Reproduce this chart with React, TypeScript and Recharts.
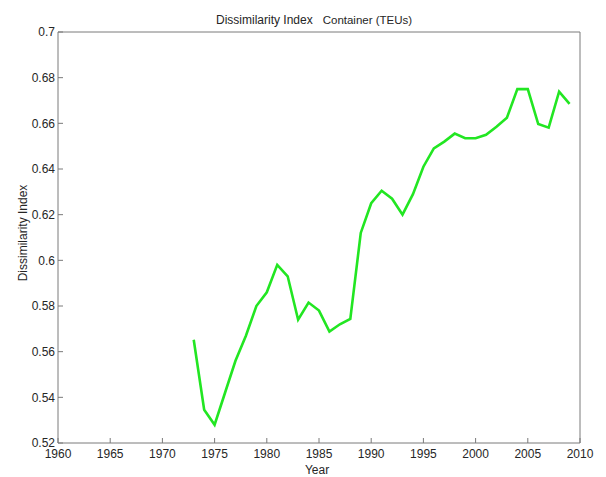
import React from 'react';
import { LineChart, Line, XAxis, YAxis } from 'recharts';

const years = [1973, 1974, 1975, 1976, 1977, 1978, 1979, 1980, 1981, 1982, 1983, 1984, 1985, 1986, 1987, 1988, 1989, 1990, 1991, 1992, 1993, 1994, 1995, 1996, 1997, 1998, 1999, 2000, 2001, 2002, 2003, 2004, 2005, 2006, 2007, 2008, 2009];
const dissimilarity = [0.5652, 0.5346, 0.528, 0.542, 0.556, 0.567, 0.580, 0.586, 0.598, 0.593, 0.574, 0.5815, 0.578, 0.5688, 0.572, 0.5743, 0.612, 0.625, 0.6305, 0.627, 0.620, 0.629, 0.641, 0.649, 0.652, 0.6555, 0.6535, 0.6535, 0.655, 0.6585, 0.6625, 0.675, 0.675, 0.6597, 0.6581, 0.6739, 0.6685];
const xTicks = [1960, 1965, 1970, 1975, 1980, 1985, 1990, 1995, 2000, 2005, 2010];
const yTicks = [0.52, 0.54, 0.56, 0.58, 0.6, 0.62, 0.64, 0.66, 0.68, 0.7];

const data = years.map((y, i) => ({ year: y, value: dissimilarity[i] }));

const FONT = '"Liberation Sans", Arial, sans-serif';
const AXIS = '#7a7a7a';
const TEXT = '#262626';
const fmt = (v: number) => String(Number(v.toFixed(2)));

export default function App() {
  return (
    <div style={{ position: 'relative', width: 598, height: 469, fontFamily: FONT }}>
      <div
        style={{
          position: 'absolute',
          left: 208,
          top: 5,
          fontSize: 12,
          color: TEXT,
          whiteSpace: 'pre',
          fontFamily: FONT,
        }}
      >
        <span>Dissimilarity Index</span>
        <span style={{ marginLeft: 10, fontSize: 11.5 }}>Container (TEUs)</span>
      </div>
      <LineChart
        width={598}
        height={469}
        data={data}
        margin={{ top: 23, right: 25, bottom: 0, left: 0 }}
      >
        <XAxis
          dataKey="year"
          type="number"
          domain={[1960, 2010]}
          ticks={xTicks}
          allowDataOverflow
          height={34}
          tickSize={-5}
          tickMargin={11}
          stroke={AXIS}
          tick={{ fill: TEXT, fontSize: 12, fontFamily: FONT }}
          label={{
            content: (p: any) => {
              const vb = p.viewBox || {};
              return (
                <text x={vb.x + vb.width / 2 - 2} y={466} textAnchor="middle" fontSize={12} fill={TEXT} fontFamily={FONT}>
                  Year
                </text>
              );
            },
          }}
        />
        <XAxis
          xAxisId="top"
          dataKey="year"
          type="number"
          orientation="top"
          height={1}
          domain={[1960, 2010]}
          allowDataOverflow
          ticks={xTicks}
          tick={false}
          tickSize={-5}
          stroke={AXIS}
        />
        <YAxis
          type="number"
          domain={[0.52, 0.7]}
          ticks={yTicks}
          allowDataOverflow
          width={50}
          tickSize={-5}
          tickMargin={8}
          tickFormatter={fmt}
          stroke={AXIS}
          tick={{ fill: TEXT, fontSize: 12, fontFamily: FONT }}
          label={{
            content: () => (
              <text
                x={15}
                y={225}
                transform="rotate(-90 15 225)"
                textAnchor="middle"
                dominantBaseline="central"
                fontSize={12}
                fill={TEXT}
                fontFamily={FONT}
              >
                Dissimilarity Index
              </text>
            ),
          }}
        />
        <YAxis
          yAxisId="right"
          orientation="right"
          width={1}
          type="number"
          domain={[0.52, 0.7]}
          allowDataOverflow
          ticks={yTicks}
          tick={false}
          tickSize={-5}
          stroke={AXIS}
        />
        <Line
          type="linear"
          dataKey="value"
          stroke="#22e622"
          strokeWidth={2.6}
          dot={false}
          isAnimationActive={false}
        />
      </LineChart>
    </div>
  );
}
